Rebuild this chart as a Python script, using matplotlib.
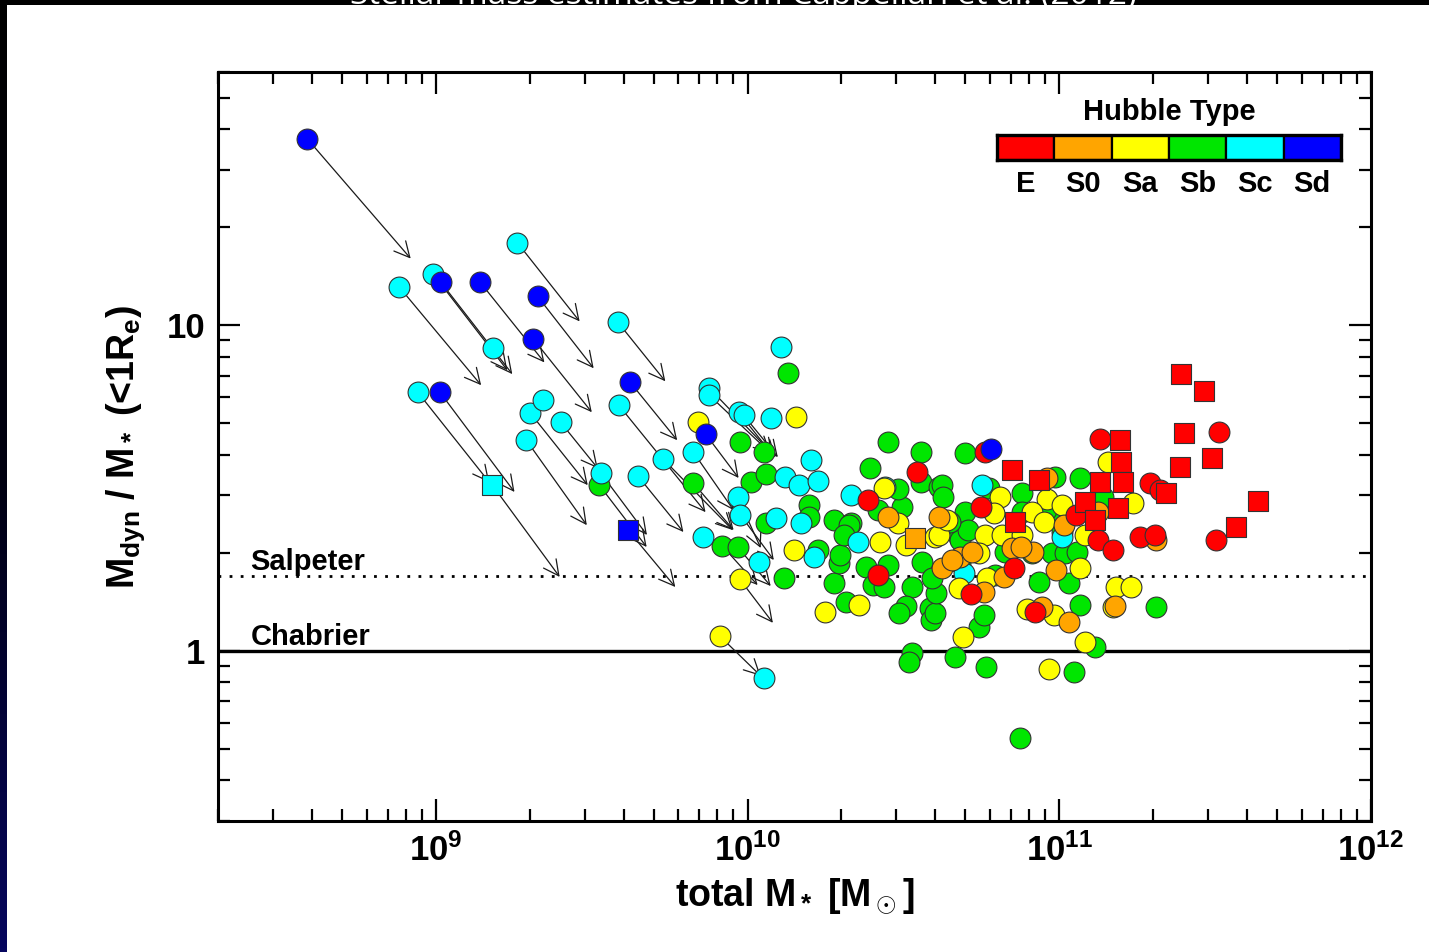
import numpy as np
import matplotlib.pyplot as plt
from matplotlib.patches import Rectangle
from matplotlib.colors import LinearSegmentedColormap
from matplotlib.ticker import FixedLocator, LogLocator, NullFormatter

plt.rcParams['font.family'] = ['Liberation Sans', 'DejaVu Sans']
plt.rcParams['font.weight'] = 'bold'
plt.rcParams['axes.labelweight'] = 'bold'
plt.rcParams['mathtext.fontset'] = 'custom'
plt.rcParams['mathtext.rm'] = 'Liberation Sans:bold'
plt.rcParams['mathtext.it'] = 'Liberation Sans:bold'
plt.rcParams['mathtext.bf'] = 'Liberation Sans:bold'
plt.rcParams['mathtext.sf'] = 'Liberation Sans:bold'

# Hubble types and colours
type_names = ['E', 'S0', 'Sa', 'Sb', 'Sc', 'Sd']
type_colors = ['#ff0000', '#ffa500', '#ffff00', '#00e600', '#00ffff', '#0000ff']

# all values: log10(total M*/Msun), log10(Mdyn/M* within 1 Re)
sd_logm = [8.587, 9.016, 9.142, 9.326, 9.313, 9.013, 9.623, 9.865, 10.781]
sd_logr = [1.573, 1.132, 1.132, 1.089, 0.957, 0.794, 0.825, 0.666, 0.620]
sd_sq_logm = [9.616]
sd_sq_logr = [0.371]

sc_logm = [8.881, 8.990, 9.261, 9.184, 9.584, 8.942, 9.303, 9.342, 9.400, 9.290,
           9.529, 9.587, 9.648, 9.729, 9.877, 9.877, 9.971, 9.987, 9.826, 9.968,
           9.977, 9.858, 10.036, 10.074, 10.106, 10.119, 10.165, 10.203, 10.226, 10.090,
           10.171, 10.213, 10.052, 10.332, 10.442, 10.355, 10.752, 11.010, 10.694]
sc_logr = [1.119, 1.159, 1.254, 0.929, 1.009, 0.794, 0.730, 0.770, 0.702, 0.647,
           0.546, 0.754, 0.537, 0.589, 0.807, 0.785, 0.733, 0.724, 0.610, 0.472,
           0.417, 0.350, 0.273, 0.715, 0.932, 0.534, 0.509, 0.586, 0.521, 0.408,
           0.393, 0.288, -0.083, 0.478, 0.503, 0.334, 0.509, 0.350, 0.239]
sc_sq_logm = [9.181]
sc_sq_logr = [0.509]

sa_logm = [9.842, 10.155, 9.910, 9.974, 10.148, 10.248, 10.358, 10.439, 10.484, 10.426,
           10.600, 10.810, 10.961, 10.790, 10.913, 10.952, 10.761, 10.816, 10.881, 10.613,
           10.742, 11.068, 10.677, 10.897, 10.984, 10.690, 10.968, 11.084, 11.155, 11.236,
           11.081, 11.181, 11.229, 11.171, 10.509, 11.010, 10.768, 10.639]
sa_logr = [0.702, 0.718, 0.046, 0.221, 0.310, 0.120, 0.141, 0.500, 0.393, 0.334,
           0.350, 0.472, 0.466, 0.423, 0.426, 0.396, 0.356, 0.356, 0.356, 0.356,
           0.301, 0.255, 0.193, 0.129, 0.110, 0.043, -0.055, 0.028, 0.580, 0.454,
           0.356, 0.196, 0.196, 0.135, 0.325, 0.448, 0.224, 0.402]

sb_logm = [9.524, 9.826, 9.919, 9.968, 9.974, 10.052, 10.129, 10.010, 10.058, 10.058,
           10.116, 10.197, 10.197, 10.278, 10.332, 10.226, 10.278, 10.316, 10.294, 10.297,
           10.381, 10.452, 10.403, 10.436, 10.526, 10.507, 10.487, 10.584, 10.587, 10.561,
           10.526, 10.519, 10.326, 10.310, 10.452, 10.555, 10.555, 10.394, 10.419, 10.494,
           10.481, 10.613, 10.697, 10.623, 10.626, 10.774, 10.881, 10.987, 10.697, 10.881,
           10.984, 11.010, 10.677, 10.681, 10.794, 10.826, 10.913, 10.977, 11.019, 11.058,
           11.032, 10.936, 10.600, 10.742, 10.758, 10.665, 10.765, 11.065, 11.116, 11.048,
           10.874, 11.310, 11.139, 11.068, 10.603, 10.590, 10.706, 10.958, 10.648, 10.681]
sb_logr = [0.509, 0.515, 0.322, 0.319, 0.641, 0.610, 0.853, 0.518, 0.543, 0.393,
           0.224, 0.448, 0.411, 0.402, 0.393, 0.310, 0.209, 0.150, 0.270, 0.294,
           0.258, 0.264, 0.202, 0.196, 0.196, 0.138, 0.117, 0.132, 0.095, 0.273,
           -0.006, -0.034, 0.386, 0.356, 0.641, 0.610, 0.518, 0.561, 0.432, 0.442,
           0.497, 0.503, 0.607, 0.509, 0.472, 0.500, 0.485, 0.534, 0.426, 0.426,
           0.417, 0.365, 0.350, 0.340, 0.233, 0.304, 0.301, 0.301, 0.301, 0.304,
           0.209, 0.212, 0.117, 0.074, 0.110, -0.018, -0.049, 0.141, 0.012, -0.064,
           -0.267, 0.135, 0.472, 0.531, 0.178, 0.224, 0.371, 0.432, 0.396, 0.270]

s0_logm = [10.452, 10.613, 10.623, 10.681, 10.758, 10.916, 10.961, 11.016, 10.990, 10.945,
           11.032, 11.178, 11.310, 10.719, 10.848, 11.123, 10.655, 10.823, 10.877]
s0_logr = [0.411, 0.411, 0.255, 0.288, 0.181, 0.304, 0.531, 0.386, 0.248, 0.135,
           0.089, 0.138, 0.340, 0.304, 0.316, 0.426, 0.279, 0.227, 0.319]
s0_sq_logm = [10.536]
s0_sq_logr = [0.347]

e_logm = [10.542, 10.387, 10.761, 10.748, 10.855, 10.716, 10.923, 10.419, 11.132, 11.123,
          11.171, 11.290, 11.323, 11.258, 11.306, 11.513, 11.503, 11.052]
e_logr = [0.549, 0.463, 0.610, 0.442, 0.255, 0.175, 0.120, 0.233, 0.650, 0.340,
          0.310, 0.515, 0.494, 0.350, 0.356, 0.672, 0.340, 0.417]
e_sq_logm = [11.390, 11.465, 11.400, 11.387, 11.490, 11.342, 11.636, 11.568, 11.194, 11.197,
             11.203, 11.129, 11.081, 11.187, 11.113, 10.848, 10.936, 10.858]
e_sq_logr = [0.850, 0.797, 0.669, 0.564, 0.592, 0.485, 0.460, 0.380, 0.647, 0.580,
             0.518, 0.518, 0.457, 0.439, 0.402, 0.555, 0.524, 0.396]

# corrections for low-mass galaxies: start -> end
arr_logm0 = [8.587, 9.016, 9.142, 9.326, 9.313, 9.013, 9.623, 9.865, 9.616,
             8.881, 8.990, 9.261, 9.584, 8.942, 9.303, 9.400, 9.290, 9.529, 9.587,
             9.648, 9.729, 9.877, 9.877, 9.971, 9.987, 9.826, 9.968, 9.977, 9.181,
             9.524, 9.826, 9.919, 9.968, 9.910, 9.974]
arr_logr0 = [1.573, 1.132, 1.132, 1.089, 0.957, 0.794, 0.825, 0.666, 0.371,
             1.119, 1.159, 1.254, 1.009, 0.794, 0.730, 0.702, 0.647, 0.546, 0.754,
             0.537, 0.589, 0.807, 0.785, 0.733, 0.724, 0.610, 0.472, 0.417, 0.509,
             0.509, 0.515, 0.322, 0.319, 0.046, 0.221]
arr_logm1 = [8.919, 9.245, 9.348, 9.506, 9.500, 9.252, 9.774, 9.971, 9.768,
             9.145, 9.229, 9.461, 9.736, 9.171, 9.487, 9.519, 9.484, 9.677, 9.865,
             9.794, 9.952, 10.090, 10.074, 10.081, 10.097, 9.955, 10.042, 10.084, 9.397,
             9.676, 9.955, 10.032, 10.074, 10.042, 10.081]
arr_logr1 = [1.205, 0.850, 0.886, 0.868, 0.733, 0.488, 0.647, 0.531, 0.196,
             0.816, 0.862, 1.012, 0.828, 0.518, 0.509, 0.561, 0.386, 0.356, 0.426,
             0.365, 0.371, 0.595, 0.607, 0.601, 0.595, 0.432, 0.316, 0.279, 0.227,
             0.319, 0.371, 0.202, 0.199, -0.077, 0.086]

salpeter = 1.70
chabrier = 1.0

fig = plt.figure(figsize=(14.29, 9.52), dpi=100)
fig.patch.set_facecolor('white')

# slide background bits: black strip on top, dark blue strip on the left
fig.patches.append(Rectangle((0, 1 - 5 / 952), 1, 5 / 952, transform=fig.transFigure,
                             facecolor='black', edgecolor='none', zorder=0))
sax = fig.add_axes([0, 0, 7 / 1429, 1])
grad = np.linspace(0, 1, 256).reshape(-1, 1)
sax.imshow(grad, aspect='auto', origin='upper',
           cmap=LinearSegmentedColormap.from_list('slide', ['#000000', '#000010', '#06065e']))
sax.axis('off')
# slide title, cut off by the top edge as in the slide
fig.text(0.52, 1 - 4.5 / 952, 'Stellar mass estimates from Cappellari et al. (2012)',
         color='white', fontsize=24, fontweight='normal', family='Open Sans',
         ha='center', va='baseline')

ax = fig.add_axes([0.1526, 0.1376, 0.8068, 0.7868])
ax.set_xscale('log')
ax.set_yscale('log')
ax.set_xlim(2e8, 1e12)
ax.set_ylim(0.3, 60)

# reference IMF lines
ax.axhline(salpeter, color='black', lw=2, ls=(0, (1, 3)), zorder=1)
ax.axhline(chabrier, color='black', lw=2.4, zorder=1)
ax.text(0.028, 1.77, 'Salpeter', transform=ax.get_yaxis_transform(), fontsize=21,
        ha='left', va='baseline')
ax.text(0.028, 1.04, 'Chabrier', transform=ax.get_yaxis_transform(), fontsize=21,
        ha='left', va='baseline')

for x0, y0, x1, y1 in zip(arr_logm0, arr_logr0, arr_logm1, arr_logr1):
    ax.annotate('', xy=(10 ** x1, 10 ** y1), xytext=(10 ** x0, 10 ** y0),
                arrowprops=dict(arrowstyle='->,head_length=0.55,head_width=0.28',
                                color='#1a1a1a', lw=0.9, shrinkA=0, shrinkB=0,
                                mutation_scale=20),
                zorder=2)

msize = 225
kw = dict(s=msize, edgecolors='#333333', linewidths=0.8, zorder=3)
ax.scatter(10 ** np.array(sb_logm), 10 ** np.array(sb_logr), c=type_colors[3], marker='o', **kw)
ax.scatter(10 ** np.array(sc_logm), 10 ** np.array(sc_logr), c=type_colors[4], marker='o', **kw)
ax.scatter(10 ** np.array(sa_logm), 10 ** np.array(sa_logr), c=type_colors[2], marker='o', **kw)
ax.scatter(10 ** np.array(s0_logm), 10 ** np.array(s0_logr), c=type_colors[1], marker='o', **kw)
ax.scatter(10 ** np.array(e_logm), 10 ** np.array(e_logr), c=type_colors[0], marker='o', **kw)
ax.scatter(10 ** np.array(sd_logm), 10 ** np.array(sd_logr), c=type_colors[5], marker='o', **kw)
ax.scatter(10 ** np.array(sc_sq_logm), 10 ** np.array(sc_sq_logr), c=type_colors[4], marker='s', **kw)
ax.scatter(10 ** np.array(sd_sq_logm), 10 ** np.array(sd_sq_logr), c=type_colors[5], marker='s', **kw)
ax.scatter(10 ** np.array(s0_sq_logm), 10 ** np.array(s0_sq_logr), c=type_colors[1], marker='s', **kw)
ax.scatter(10 ** np.array(e_sq_logm), 10 ** np.array(e_sq_logr), c=type_colors[0], marker='s', **kw)

# axes, ticks
ax.yaxis.set_major_locator(FixedLocator([1, 10]))
ax.set_yticklabels(['1', '10'])
ax.yaxis.set_minor_locator(LogLocator(base=10, subs=np.arange(2, 10), numticks=20))
ax.yaxis.set_minor_formatter(NullFormatter())
ax.xaxis.set_minor_locator(LogLocator(base=10, subs=np.arange(2, 10), numticks=20))
ax.xaxis.set_minor_formatter(NullFormatter())
ax.tick_params(which='both', direction='in', top=True, right=True, width=1.6)
ax.tick_params(which='major', length=16, labelsize=25, pad=9)
ax.tick_params(which='minor', length=8.5)
for sp in ax.spines.values():
    sp.set_linewidth(2.2)

ax.set_xlabel(r'total M$_*$ [M$_\odot$]', fontsize=27, fontweight='bold', labelpad=6)
ax.set_ylabel(r'M$_{\rm dyn}$ / M$_*$ (<1R$_{\rm e}$)', fontsize=27, fontweight='bold',
              labelpad=14)

# Hubble type colour key
lax = fig.add_axes([0.6977, 0.8319, 0.2407, 0.0263])
lax.bar(np.arange(6), 1, width=1, align='edge', color=type_colors,
        edgecolor='black', linewidth=1.6)
lax.set_xlim(0, 6)
lax.set_ylim(0, 1)
lax.set_xticks([])
lax.set_yticks([])
for sp in lax.spines.values():
    sp.set_linewidth(2.4)
for i, name in enumerate(type_names):
    lax.text(i + 0.5, -0.4, name, ha='center', va='top', fontsize=21)
lax.text(3, 1.36, 'Hubble Type', ha='center', va='bottom', fontsize=21)

fig.savefig('out.png', dpi=100)
